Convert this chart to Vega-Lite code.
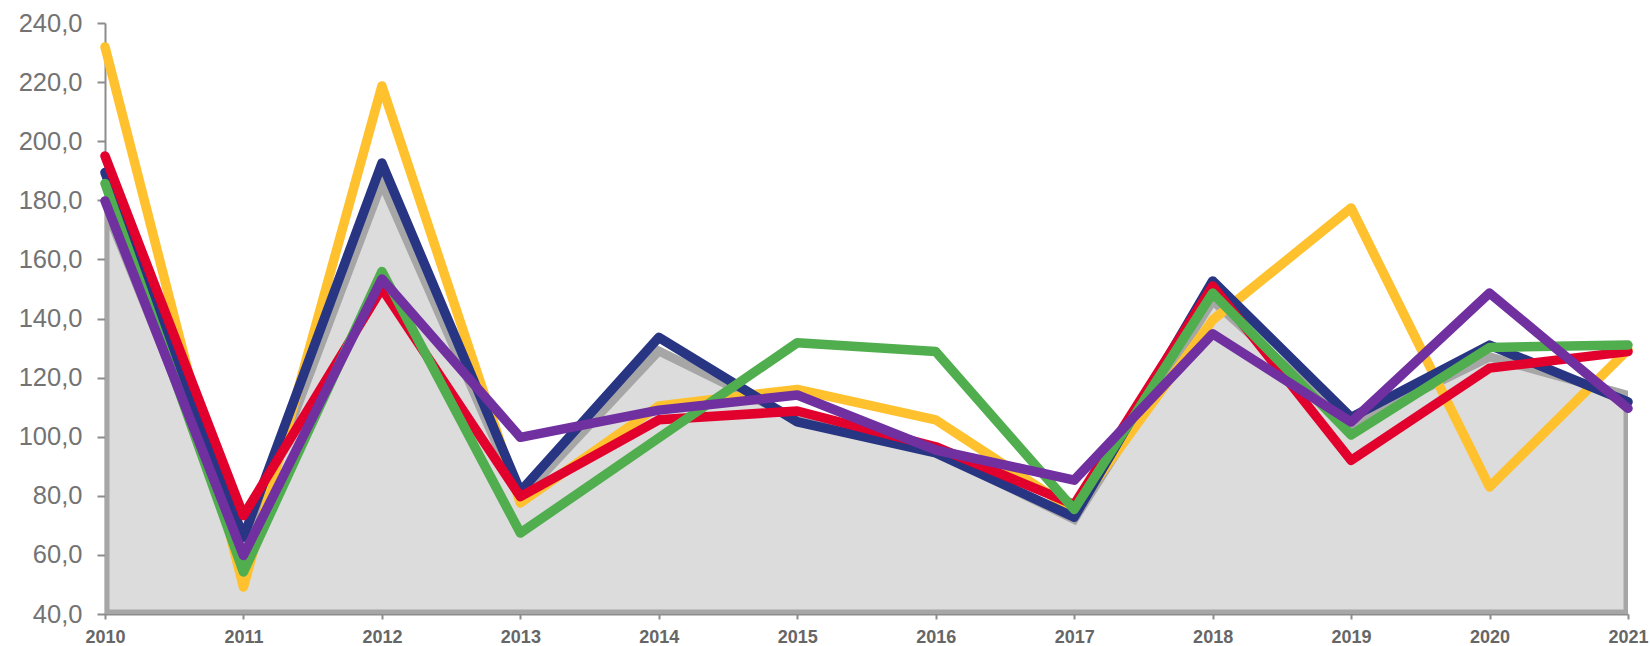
{
  "$schema": "https://vega.github.io/schema/vega-lite/v6.json",
  "autosize": {"type": "none"},
  "width": 1523,
  "height": 591,
  "padding": {"left": 105, "top": 23, "right": 22, "bottom": 32},
  "background": "white",
  "config": {"view": {"stroke": null}, "font": "Liberation Sans"},
  "data": {"values": [
    {"year": 2010, "series": "Gesamt", "value": 178}, {"year": 2011, "series": "Gesamt", "value": 62}, {"year": 2012, "series": "Gesamt", "value": 186}, {"year": 2013, "series": "Gesamt", "value": 79}, {"year": 2014, "series": "Gesamt", "value": 129}, {"year": 2015, "series": "Gesamt", "value": 106}, {"year": 2016, "series": "Gesamt", "value": 95}, {"year": 2017, "series": "Gesamt", "value": 72}, {"year": 2018, "series": "Gesamt", "value": 146}, {"year": 2019, "series": "Gesamt", "value": 104}, {"year": 2020, "series": "Gesamt", "value": 127}, {"year": 2021, "series": "Gesamt", "value": 114},
    {"year": 2010, "series": "Gelb", "value": 231.9}, {"year": 2011, "series": "Gelb", "value": 49.1}, {"year": 2012, "series": "Gelb", "value": 218.7}, {"year": 2013, "series": "Gelb", "value": 77.6}, {"year": 2014, "series": "Gelb", "value": 110.4}, {"year": 2015, "series": "Gelb", "value": 116}, {"year": 2016, "series": "Gelb", "value": 105.7}, {"year": 2017, "series": "Gelb", "value": 75}, {"year": 2018, "series": "Gelb", "value": 139.5}, {"year": 2019, "series": "Gelb", "value": 177.4}, {"year": 2020, "series": "Gelb", "value": 83}, {"year": 2021, "series": "Gelb", "value": 129.5},
    {"year": 2010, "series": "Blau", "value": 189.4}, {"year": 2011, "series": "Blau", "value": 66}, {"year": 2012, "series": "Blau", "value": 192.6}, {"year": 2013, "series": "Blau", "value": 81.5}, {"year": 2014, "series": "Blau", "value": 133.6}, {"year": 2015, "series": "Blau", "value": 105}, {"year": 2016, "series": "Blau", "value": 94.5}, {"year": 2017, "series": "Blau", "value": 72.8}, {"year": 2018, "series": "Blau", "value": 152.7}, {"year": 2019, "series": "Blau", "value": 106.5}, {"year": 2020, "series": "Blau", "value": 131}, {"year": 2021, "series": "Blau", "value": 111.8},
    {"year": 2010, "series": "Rot", "value": 195}, {"year": 2011, "series": "Rot", "value": 73.3}, {"year": 2012, "series": "Rot", "value": 150.2}, {"year": 2013, "series": "Rot", "value": 79.7}, {"year": 2014, "series": "Rot", "value": 105.7}, {"year": 2015, "series": "Rot", "value": 108.7}, {"year": 2016, "series": "Rot", "value": 96.6}, {"year": 2017, "series": "Rot", "value": 77}, {"year": 2018, "series": "Rot", "value": 151}, {"year": 2019, "series": "Rot", "value": 92}, {"year": 2020, "series": "Rot", "value": 123.2}, {"year": 2021, "series": "Rot", "value": 128.8},
    {"year": 2010, "series": "Grün", "value": 185.7}, {"year": 2011, "series": "Grün", "value": 54.2}, {"year": 2012, "series": "Grün", "value": 155.9}, {"year": 2013, "series": "Grün", "value": 67.4}, {"year": 2014, "series": "Grün", "value": 99.6}, {"year": 2015, "series": "Grün", "value": 131.8}, {"year": 2016, "series": "Grün", "value": 128.8}, {"year": 2017, "series": "Grün", "value": 75.4}, {"year": 2018, "series": "Grün", "value": 148.6}, {"year": 2019, "series": "Grün", "value": 100.6}, {"year": 2020, "series": "Grün", "value": 130.2}, {"year": 2021, "series": "Grün", "value": 131},
    {"year": 2010, "series": "Lila", "value": 179.8}, {"year": 2011, "series": "Lila", "value": 59.8}, {"year": 2012, "series": "Lila", "value": 153.4}, {"year": 2013, "series": "Lila", "value": 99.8}, {"year": 2014, "series": "Lila", "value": 109}, {"year": 2015, "series": "Lila", "value": 114.1}, {"year": 2016, "series": "Lila", "value": 95.5}, {"year": 2017, "series": "Lila", "value": 85.3}, {"year": 2018, "series": "Lila", "value": 134.8}, {"year": 2019, "series": "Lila", "value": 105}, {"year": 2020, "series": "Lila", "value": 148.6}, {"year": 2021, "series": "Lila", "value": 109.6}
  ]},
  "encoding": {
    "x": {"field": "year", "type": "quantitative",
      "scale": {"domain": [2010, 2021], "nice": false, "zero": false},
      "axis": {"values": [2010, 2011, 2012, 2013, 2014, 2015, 2016, 2017, 2018, 2019, 2020, 2021], "format": "d", "title": null, "grid": false,
        "domainColor": "#8c8c8c", "domainWidth": 2, "tickColor": "#8c8c8c", "tickWidth": 2, "tickSize": 5,
        "labelFont": "Liberation Sans", "labelFontSize": 18, "labelFontWeight": "bold", "labelColor": "#666666", "labelPadding": 9, "labelFlush": false, "labelOverlap": false}},
    "y": {"field": "value", "type": "quantitative",
      "scale": {"domain": [40, 240], "nice": false, "zero": false},
      "axis": {"values": [40, 60, 80, 100, 120, 140, 160, 180, 200, 220, 240], "title": null, "grid": false,
        "labelExpr": "replace(format(datum.value, '.1f'), '.', ',')",
        "domainColor": "#8c8c8c", "domainWidth": 2, "tickColor": "#8c8c8c", "tickWidth": 2, "tickSize": 8,
        "labelFont": "Liberation Sans", "labelFontSize": 25.5, "labelColor": "#737373", "labelPadding": 15, "labelFlush": false, "labelOverlap": false}}
  },
  "layer": [
    {
      "transform": [{"filter": "datum.series === 'Gesamt'"}],
      "mark": {"type": "area", "fill": "#dcdcdc", "stroke": "#a6a6a6", "strokeWidth": 9, "strokeJoin": "miter", "clip": true},
      "encoding": {"y2": {"datum": 40}}
    },
    {
      "transform": [{"filter": "datum.series !== 'Gesamt'"}],
      "mark": {"type": "line", "strokeWidth": 9.5, "strokeCap": "round", "strokeJoin": "round"},
      "encoding": {
        "color": {"field": "series", "type": "nominal", "legend": null,
          "scale": {"domain": ["Gelb", "Blau", "Rot", "Grün", "Lila"], "range": ["#ffc12e", "#283583", "#e2002d", "#51ae4f", "#7130a0"]}}
      }
    }
  ]
}
